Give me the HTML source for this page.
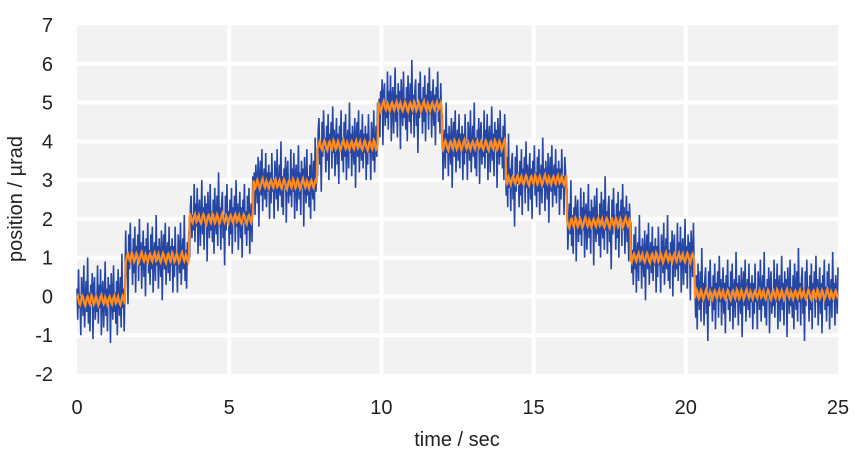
<!DOCTYPE html>
<html><head><meta charset="utf-8"><style>
html,body{margin:0;padding:0;background:#fff;}
svg{display:block;font-family:"Liberation Sans",Arial,sans-serif;}
</style></head><body>
<svg id="chart" width="857" height="465">
<rect x="77" y="25" width="761" height="349" fill="#f2f2f2"/>
<g id="grid"></g>
<g id="series"></g>
<g id="ticks" font-size="20" fill="#222"></g>
<text x="457" y="446" font-size="20" text-anchor="middle" fill="#222">time / sec</text>
<text transform="translate(22,199) rotate(-90)" font-size="20" text-anchor="middle" fill="#222">position / µrad</text>
</svg>
<script>
const xTicks = [0,5,10,15,20,25];
const yTicks = [-2,-1,0,1,2,3,4,5,6,7];
const stepTimes = [0,1.6,3.7,5.8,7.9,9.9,12.0,14.1,16.1,18.2,20.3];
const stepLevels = [-0.1,1.0,2.0,2.9,3.9,4.9,3.9,3.0,1.9,1.0,0.05];
const noise = [0.3,-0.5,0.8,-0.2,0.1,-0.9,0.6,0.2,-0.4,0.9,-0.7,0.0,0.5,-0.3,1.1,-0.6,0.2,-0.8,0.4,-0.1,
0.7,-1.0,0.3,0.6,-0.5,0.1,-0.3,0.9,-0.6,0.4,-0.2,0.8,-0.9,0.2,0.5,-0.7,0.0,1.0,-0.4,0.3,
-0.8,0.6,-0.1,0.4,-1.1,0.7,0.1,-0.5,0.9,-0.3,0.2,-0.6,0.5,-0.9,0.8,0.0,-0.4,0.6,-0.7,1.2,
-0.2,0.3,-0.8,0.4,0.7,-0.5,0.1,-1.2,0.6,-0.3,0.9,-0.1,0.2,-0.7,0.5,-0.4,0.8,-0.9,0.3,0.0,
0.6,-0.6,1.0,-0.2,0.4,-0.8,0.1,0.7,-0.5,0.3,-1.0,0.5,-0.1,0.9,-0.4,0.2,-0.7,0.6,-0.3,0.8,
-0.9,0.1,0.4,-0.6,1.1,-0.2,0.3,-0.8,0.5,0.0,-0.5,0.7,-1.1,0.2,0.6,-0.3,0.9,-0.7,0.1,0.4,
-0.4,0.8,-0.6,0.3,-0.2,0.5,-0.9];
const smoothNoise = [0.05,0.1,0.0,-0.08,-0.12,-0.05,0.06,0.12,0.08,-0.02,-0.1,-0.14,-0.04,0.07,0.1,0.03,-0.06,-0.1,0.02,0.13,
0.09,-0.03,-0.11,-0.07,0.04,0.11,0.06,-0.05,-0.13,-0.08,0.01,0.09,0.14,0.05,-0.04,-0.09,-0.02,0.08,0.03,-0.07,
-0.12,-0.03,0.06,0.1,0.04,-0.06,-0.1,0.0,0.07,0.12,0.02,-0.08,-0.05];
const NS = 'http://www.w3.org/2000/svg';
const X0=77, X1=838, YT=25, YB=374;
const xs = v => X0 + (v-0)/(25-0)*(X1-X0);
const ys = v => YB - (v-(-2))/(7-(-2))*(YB-YT);
const grid = document.getElementById('grid');
const ticks = document.getElementById('ticks');
const series = document.getElementById('series');
yTicks.forEach(t=>{
  if(t>-2 && t<7){
    const l=document.createElementNS(NS,'line');
    l.setAttribute('x1',X0);l.setAttribute('x2',X1);l.setAttribute('y1',ys(t));l.setAttribute('y2',ys(t));
    l.setAttribute('stroke','#fff');l.setAttribute('stroke-width','4');
    
    
    grid.appendChild(l);
  }
  const tx=document.createElementNS(NS,'text');
  tx.setAttribute('x',53);tx.setAttribute('y',ys(t)+7);tx.setAttribute('text-anchor','end');
  tx.textContent=t;
  
  
  ticks.appendChild(tx);
});
xTicks.forEach(t=>{
  if(t>0 && t<25){
    const l=document.createElementNS(NS,'line');
    l.setAttribute('x1',xs(t));l.setAttribute('x2',xs(t));l.setAttribute('y1',YT);l.setAttribute('y2',YB);
    l.setAttribute('stroke','#fff');l.setAttribute('stroke-width','4');
    
    
    grid.appendChild(l);
  }
  const tx=document.createElementNS(NS,'text');
  tx.setAttribute('x',xs(t));tx.setAttribute('y',414);tx.setAttribute('text-anchor','middle');
  tx.textContent=t;
  
  
  ticks.appendChild(tx);
});
function levelAt(t){let lv=stepLevels[0];for(let k=0;k<stepTimes.length;k++){if(t>=stepTimes[k])lv=stepLevels[k];}return lv;}
let pb='',po='';
const N=1000;
for(let i=0;i<=N;i++){
  const t=i*25/N, lv=levelAt(t);
  const b=lv+noise[i%noise.length], o=lv+smoothNoise[i%smoothNoise.length];
  pb+=(i?'L':'M')+xs(t).toFixed(2)+' '+ys(b).toFixed(2);
  po+=(i?'L':'M')+xs(t).toFixed(2)+' '+ys(o).toFixed(2);
}
const blue=document.createElementNS(NS,'path');
blue.setAttribute('d',pb);blue.setAttribute('fill','none');blue.setAttribute('stroke','#2546a4');blue.setAttribute('stroke-width','1.6');


series.appendChild(blue);
const orange=document.createElementNS(NS,'path');
orange.setAttribute('d',po);orange.setAttribute('fill','none');orange.setAttribute('stroke','#ff8a1f');orange.setAttribute('stroke-width','2.2');


series.appendChild(orange);
</script>
</body></html>
